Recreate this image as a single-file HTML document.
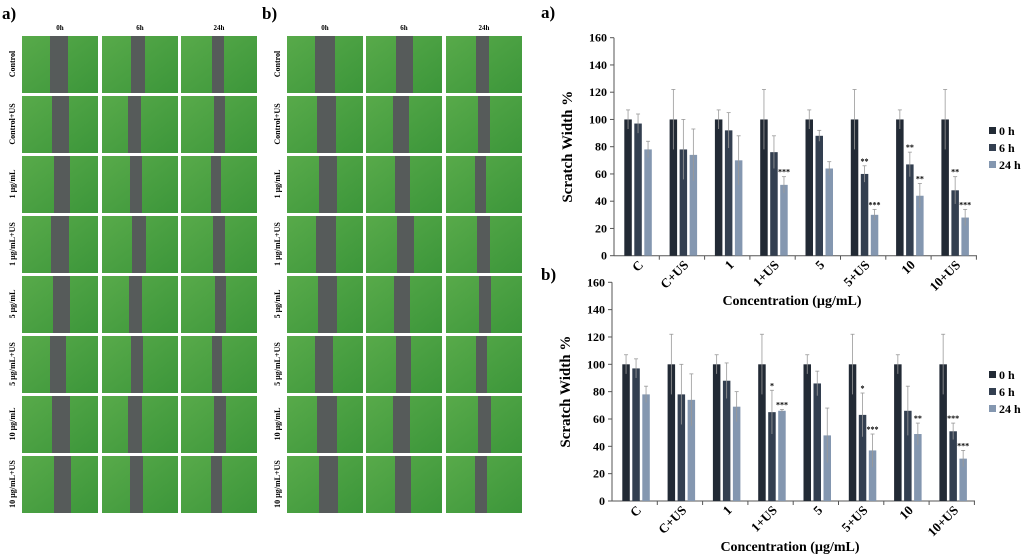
<!DOCTYPE html>
<html><head><meta charset="utf-8"><style>
html,body{margin:0;padding:0;background:#fff;}
svg{display:block;font-family:"Liberation Serif",serif;font-weight:bold;}
</style></head><body>
<svg id="fig" width="1024" height="555" viewBox="0 0 1024 555" xmlns="http://www.w3.org/2000/svg">
<defs>
<linearGradient id="gr" x1="0" y1="0" x2="1" y2="1">
<stop offset="0" stop-color="#58aa4a"/><stop offset="1" stop-color="#3c963a"/>
</linearGradient>
</defs>
<g id="panels"></g>
<g id="chartA"></g>
<g id="chartB"></g>
</svg>
<script>
const categories = ["C","C+US","1","1+US","5","5+US","10","10+US"];
const seriesNames = ["0 h","6 h","24 h"];
const yTicks = [0,20,40,60,80,100,120,140,160];
const aH0 = [100,100,100,100,100,100,100,100];
const aE0 = [7,22,7,22,7,22,7,22];
const aH6 = [97,78,92,76,88,60,67,48];
const aE6 = [7,22,13,12,4,6,9,10];
const aH24 = [78,74,70,52,64,30,44,28];
const aE24 = [6,19,18,6,5,4,9,6];
const aSig6 = ["","","","","","**","**","**"];
const aSig24 = ["","","","***","","***","**","***"];
const bH0 = [100,100,100,100,100,100,100,100];
const bE0 = [7,22,7,22,7,22,7,22];
const bH6 = [97,78,88,65,86,63,66,51];
const bE6 = [7,22,13,16,9,16,18,6];
const bH24 = [78,74,69,66,48,37,49,31];
const bE24 = [6,19,11,1,20,12,8,6];
const bSig6 = ["","","","*","","*","","***"];
const bSig24 = ["","","","***","","***","**","***"];
const rowLabels = ["Control","Control+US","1 \u00b5g/mL","1 \u00b5g/mL+US","5 \u00b5g/mL","5 \u00b5g/mL+US","10 \u00b5g/mL","10 \u00b5g/mL+US"];
const colLabels = ["0h","6h","24h"];

const NS="http://www.w3.org/2000/svg";
function mk(parent,tag,attrs,text){const e=document.createElementNS(NS,tag);for(const k in attrs)e.setAttribute(k,attrs[k]);if(text!==undefined)e.textContent=text;parent.appendChild(e);return e;}
const colors=["#222a35","#333f50","#8497b0"];

const P=document.getElementById('panels');
function panel(label,lx,cols,bands){
  const t=mk(P,'text',{x:lx,y:19,'font-size':17},label);
  
  
  cols.forEach((cx,ci)=>{
    const h=mk(P,'text',{x:cx+38,y:30,'font-size':7,'text-anchor':'middle'},colLabels[ci]);
    
    
  });
  rowLabels.forEach((rl,ri)=>{
    const y=36+ri*60;
    const r=mk(P,'text',{transform:`translate(${cols[0]-7},${y+28}) rotate(-90)`,'font-size':8,'text-anchor':'middle'},rl);
    
    
    cols.forEach((cx,ci)=>{
      const g=mk(P,'g',{});
      
      
      mk(g,'rect',{x:cx,y:y,width:76,height:57,fill:'url(#gr)'});
      const b=bands[ci];const off=((ri*7+ci*3)%5)-2;
      mk(g,'rect',{x:b[0]+off,y:y,width:b[1]-(ri%3),height:57,fill:'#565b5a'});
    });
  });
}
panel("a)",2,[22,102,181],[[52,18],[130,14],[213,12]]);
panel("b)",262,[287,366,446],[[317,20],[395,17],[477,13]]);

function drawChart(gid,cfg){
  const G=document.getElementById(gid);
  const {x0,y0,y160,hs,es,sigs}=cfg;
  const sy=v=>y0-(y0-y160)*v/160;
  const gx=i=>x0+14+i*45.3;
  mk(G,'line',{x1:x0,y1:y0,x2:x0,y2:y160,stroke:'#555','stroke-width':1});
  mk(G,'line',{x1:x0,y1:y0,x2:x0+363,y2:y0,stroke:'#555','stroke-width':1});
  yTicks.forEach(v=>{
    mk(G,'line',{x1:x0-4,y1:sy(v),x2:x0,y2:sy(v),stroke:'#555'});
    const t=mk(G,'text',{x:x0-7,y:sy(v)+4,'font-size':12,'text-anchor':'end'},v);
    
    
  });
  categories.forEach((c,i)=>{
    mk(G,'line',{x1:x0+i*45.3+45.3,y1:y0,x2:x0+i*45.3+45.3,y2:y0+4,stroke:'#555'});
    const cx=gx(i)+10;
    const t=mk(G,'text',{transform:`translate(${cx+6},${y0+10}) rotate(-45)`,'font-size':13,'text-anchor':'end'},c);
    
    
    for(let s=0;s<3;s++){
      const bx=gx(i)+s*10-3.7, v=hs[s][i], e=es[s][i];
      const r=mk(G,'rect',{x:bx,y:sy(v),width:7.5,height:sy(0)-sy(v),fill:colors[s]});
      
      
      const mx=bx+3.75;
      mk(G,'line',{x1:mx,y1:sy(v+e),x2:mx,y2:sy(v-e),stroke:'#999','stroke-width':0.8});
      mk(G,'line',{x1:mx-2,y1:sy(v+e),x2:mx+2,y2:sy(v+e),stroke:'#999','stroke-width':0.8});
      if(s>0&&sigs[s-1][i]){
        const st=mk(G,'text',{x:mx,y:sy(v+e)-2,'font-size':8,'text-anchor':'middle'},sigs[s-1][i]);
        
        
      }
    }
  });
  const yt=mk(G,'text',{transform:`translate(${x0-42},${(y0+y160)/2}) rotate(-90)`,'font-size':15,'text-anchor':'middle'},'Scratch Width %');
  
  
  const xt=mk(G,'text',{x:x0+178,y:cfg.xtY,'font-size':14,'text-anchor':'middle'},'Concentration (\u00b5g/mL)');
  
  
  seriesNames.forEach((n,s)=>{
    const ly=cfg.legY+s*17;
    const lg=mk(G,'g',{});
    
    
    mk(lg,'rect',{x:989,y:ly-4,width:7,height:7,fill:colors[s]});
    mk(lg,'text',{x:999,y:ly+4,'font-size':12},n);
  });
  const lab=mk(G,'text',{x:541,y:cfg.labY,'font-size':17},cfg.label);
  
  
}
drawChart('chartA',{x0:614,y0:255.7,y160:37.7,hs:[aH0,aH6,aH24],es:[aE0,aE6,aE24],sigs:[aSig6,aSig24],xtY:305,legY:131,label:'a)',labY:18});
drawChart('chartB',{x0:612,y0:501,y160:282.3,hs:[bH0,bH6,bH24],es:[bE0,bE6,bE24],sigs:[bSig6,bSig24],xtY:551,legY:375,label:'b)',labY:280});
</script>
</body></html>
